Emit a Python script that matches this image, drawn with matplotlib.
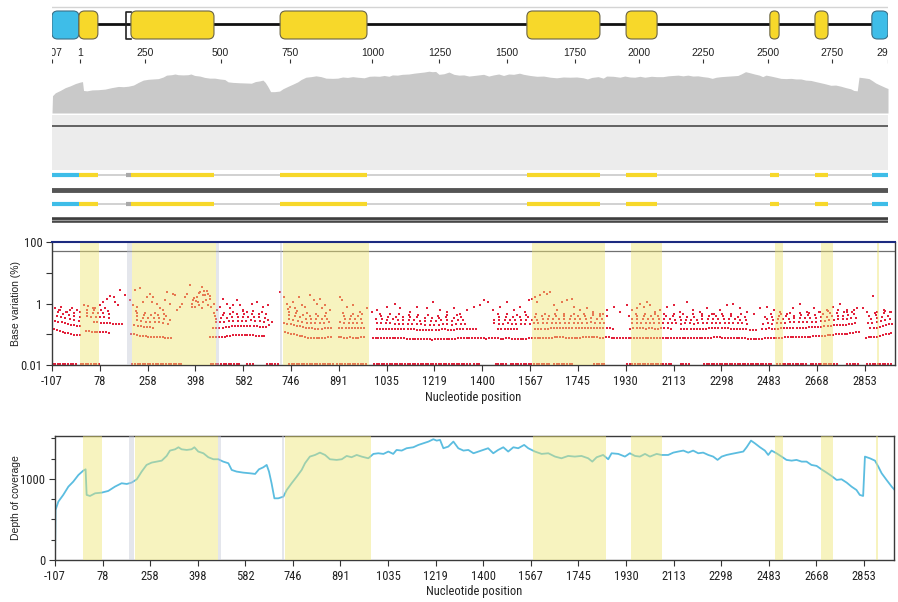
import numpy as np
import matplotlib
matplotlib.use('Agg')
import matplotlib.pyplot as plt
from matplotlib.patches import FancyBboxPatch
from matplotlib.ticker import MultipleLocator, NullLocator
from matplotlib import font_manager

# alignment columns, ticks are every 185 columns, labelled with reference position
XMAX = 3262
tick_cols = [0, 185, 370, 555, 740, 925, 1110, 1295, 1480, 1665, 1850, 2035, 2220, 2405, 2590, 2775, 2960, 3145]
tick_labels = [-107, 78, 258, 398, 582, 746, 891, 1035, 1219, 1400, 1567, 1745, 1930, 2113, 2298, 2483, 2668, 2853]
genome_end = 2900
top_tick_pos = [-107, 1, 250, 500, 750, 1000, 1250, 1500, 1750, 2000, 2250, 2500, 2750, 2900]

# features (alignment columns)
feat_start = [0, 105, 308, 890, 1853, 2240, 2801, 2977, 3199]
feat_end = [105, 179, 632, 1229, 2138, 2361, 2837, 3028, 3262]
feat_kind = ['utr', 'cds', 'cds', 'cds', 'cds', 'cds', 'cds', 'cds', 'utr']
gap_start = [289, 634, 884]
gap_end = [308, 645, 890]
hl_start = [109, 311, 894, 1858, 2239, 2798, 2977, 3191]
hl_end = [183, 634, 1228, 2141, 2359, 2829, 3024, 3199]

# depth of coverage
cov_col = [0, 2, 13, 32, 52, 71, 91, 110, 119, 123, 136, 156, 181, 207, 233, 259, 279, 298, 318, 337,
           356, 376, 395, 415, 434, 447, 467, 480, 492, 512, 531, 542, 557, 577, 596, 616, 635, 654, 674,
           687, 706, 732, 758, 778, 793, 810, 823, 832, 842, 853, 868, 888, 901, 920, 940, 959, 972, 991,
           1011, 1030, 1050, 1069, 1095, 1115, 1134, 1153, 1173, 1192, 1218, 1238, 1257, 1277, 1296, 1315,
           1328, 1348, 1367, 1393, 1413, 1432, 1452, 1471, 1484, 1497, 1510, 1529, 1549, 1568, 1588, 1607,
           1627, 1658, 1684, 1704, 1723, 1743, 1762, 1782, 1801, 1824, 1840, 1866, 1892, 1918, 1944, 1969,
           1995, 2021, 2047, 2073, 2089, 2106, 2131, 2151, 2164, 2190, 2216, 2235, 2255, 2274, 2294, 2313,
           2339, 2358, 2384, 2404, 2423, 2443, 2462, 2481, 2501, 2520, 2540, 2559, 2576, 2592, 2611, 2630,
           2656, 2676, 2689, 2706, 2721, 2741, 2760, 2773, 2786, 2805, 2825, 2844, 2864, 2883, 2903, 2922,
           2941, 2961, 2980, 3000, 3019, 3039, 3058, 3078, 3097, 3116, 3129, 3142, 3149, 3168, 3188, 3201,
           3214, 3233, 3253, 3262]
cov_depth = [0, 617, 720, 803, 905, 967, 1049, 1103, 1119, 803, 790, 823, 831, 852, 905, 947, 938, 955, 996,
             1091, 1173, 1202, 1214, 1226, 1284, 1350, 1366, 1391, 1366, 1358, 1366, 1391, 1338, 1317, 1268,
             1243, 1243, 1214, 1194, 1111, 1091, 1078, 1070, 1062, 1119, 1144, 1173, 1091, 947, 761, 761, 782,
             864, 947, 1029, 1111, 1194, 1276, 1296, 1325, 1296, 1243, 1235, 1243, 1284, 1268, 1296, 1276,
             1255, 1309, 1317, 1309, 1338, 1309, 1358, 1350, 1379, 1391, 1420, 1440, 1461, 1490, 1473, 1482,
             1379, 1399, 1461, 1379, 1350, 1358, 1317, 1350, 1379, 1317, 1358, 1391, 1338, 1391, 1379, 1420,
             1379, 1338, 1309, 1317, 1276, 1255, 1284, 1276, 1284, 1255, 1214, 1268, 1296, 1243, 1317, 1309,
             1276, 1317, 1284, 1276, 1309, 1276, 1309, 1296, 1296, 1325, 1338, 1350, 1325, 1350, 1317, 1325,
             1296, 1276, 1235, 1276, 1296, 1309, 1325, 1338, 1391, 1473, 1440, 1391, 1350, 1296, 1350, 1317,
             1276, 1235, 1226, 1235, 1214, 1214, 1173, 1161, 1119, 1078, 1037, 988, 996, 955, 905, 864, 803,
             790, 1276, 1255, 1226, 1152, 1070, 988, 905, 873]

# base variation: rows of 1..6 variant reads, read as covered segments
seg_k1 = [(0, 116), (120, 224), (302, 468), (604, 832), (890, 1088), (1103, 1219), (1231, 3127), (3146, 3255)]
seg_k2 = [(0, 120), (159, 275), (310, 399), (611, 855), (894, 1088), (1103, 1219), (1243, 1645),
          (1722, 1811), (1861, 2171), (2225, 2403), (2430, 2728), (2740, 3115), (3154, 3255)]
seg_sparse = [(0, 110), (130, 230), (320, 460), (620, 840), (900, 1080), (1110, 1210), (1250, 1600),
              (1700, 2150), (2230, 2700), (2750, 3120), (3150, 3255)]
band_reads = [1, 2, 3, 4, 5, 6]
band_segs = [seg_k1, seg_k2, seg_sparse, seg_sparse, seg_sparse, seg_sparse]
band_step = [11, 12, 17, 21, 28, 37]
seg_zero = [(0, 102), (109, 186), (309, 502), (612, 728), (754, 779), (831, 883), (915, 1089), (1102, 1218),
            (1244, 1618), (1631, 1657), (1715, 1760), (1773, 1928), (1941, 2018), (2095, 2147), (2224, 2405),
            (2431, 2470), (2521, 2792), (2805, 2921), (2934, 3037), (3076, 3127), (3153, 3255)]
zero_pct = 0.0105

hi_col = [12, 31, 57, 76, 96, 122, 141, 160, 186, 199, 212, 225, 238, 244, 257, 263, 283, 302, 315, 328,
          321, 341, 354, 367, 380, 392, 386, 405, 418, 431, 438, 444, 457, 470, 476, 483, 496, 502, 515,
          521, 534, 541, 547, 560, 567, 573, 579, 586, 592, 599, 605, 612, 625, 638, 650, 663, 676, 689,
          702, 715, 728, 741, 754, 773, 792, 818, 837, 883, 896, 908, 921, 934, 941, 954, 966, 979, 999,
          1012, 1025, 1037, 1044, 1057, 1076, 1115, 1121, 1141, 1166, 1192, 1218, 1237, 1257, 1295, 1328,
          1347, 1386, 1412, 1450, 1476, 1502, 1528, 1554, 1579, 1605, 1631, 1657, 1670, 1689, 1708, 1734,
          1760, 1786, 1812, 1831, 1844, 1857, 1870, 1876, 1889, 1902, 1915, 1928, 1941, 1954, 1973, 1992,
          2012, 2018, 2044, 2070, 2095, 2121, 2147, 2173, 2199, 2224, 2244, 2263, 2276, 2289, 2302, 2315,
          2334, 2353, 2379, 2405, 2431, 2457, 2482, 2508, 2534, 2560, 2586, 2611, 2637, 2663, 2689, 2715,
          2740, 2766, 2792, 2818, 2844, 2869, 2895, 2921, 2947, 2973, 2998, 3024, 3050, 3076, 3102, 3140,
          3153, 3176, 3192, 3218, 3243,
          540, 550, 553, 565, 580, 585, 595, 603, 615, 570, 590, 558, 610]
hi_pct = [0.69, 0.61, 0.54, 0.69, 0.61, 0.88, 0.83, 0.69, 0.88, 1.13, 1.45, 1.73, 1.64, 1.13, 0.88, 2.7,
          1.86, 1.28, 0.88, 0.78, 2.7, 3.1, 1.13, 1.64, 2.1, 1.64, 1.13, 1.0, 0.69, 0.61, 1.28, 2.4, 1.0,
          2.1, 1.86, 0.61, 0.78, 1.0, 1.64, 2.1, 3.9, 0.78, 1.28, 1.64, 0.88, 2.4, 3.5, 1.13, 1.86, 2.6,
          2.1, 1.45, 1.0, 0.61, 0.78, 1.45, 1.0, 0.69, 0.88, 1.28, 0.88, 0.61, 0.54, 1.0, 1.13, 0.78, 0.88,
          2.4, 1.64, 1.0, 0.78, 1.13, 0.69, 1.64, 0.88, 0.78, 1.86, 1.28, 1.0, 1.45, 0.69, 0.88, 0.61,
          1.64, 1.28, 0.78, 0.88, 0.54, 0.69, 0.54, 0.61, 0.78, 1.0, 0.69, 0.54, 0.78, 0.69, 1.13, 0.61,
          0.54, 0.69, 0.47, 0.61, 0.78, 0.88, 1.28, 1.13, 0.61, 0.78, 1.13, 0.61, 0.78, 0.54, 1.28, 1.45,
          1.64, 1.13, 1.86, 2.4, 2.1, 2.4, 0.88, 0.61, 1.13, 1.28, 1.45, 0.78, 0.61, 0.69, 0.54, 0.47,
          0.61, 0.78, 0.54, 0.88, 0.61, 0.69, 1.0, 0.78, 1.13, 0.88, 0.54, 0.61, 0.78, 0.88, 0.54, 1.13,
          0.61, 0.54, 0.69, 0.47, 0.61, 0.88, 1.0, 0.69, 0.54, 0.47, 0.69, 0.78, 0.61, 0.54, 0.47, 0.69,
          1.0, 0.54, 0.69, 0.54, 0.61, 0.78, 1.0, 0.54, 0.61, 0.69, 0.54, 1.73, 0.54, 0.61, 0.54,
          0.95, 1.5, 0.75, 1.1, 0.7, 1.9, 1.3, 0.9, 0.75, 2.2, 2.6, 1.2, 1.7]


def pick_font(names):
    for name in names:
        try:
            font_manager.findfont(name, fallback_to_default=False)
            return name
        except ValueError:
            pass
    return 'DejaVu Sans'


narrow = pick_font(['Liberation Sans Narrow', 'Roboto Condensed', 'Liberation Sans'])
plain = pick_font(['Liberation Sans', 'Arial'])

W, H = 898, 602
YELLOW = '#f7d82a'
BLUE = '#3ebde8'
BAND = '#efe671'
GAPC = '#c4c8d5'
RED = '#e2223c'


def box(x0, y0, x1, y1):
    return [x0 / W, 1 - y1 / H, (x1 - x0) / W, (y1 - y0) / H]


fig = plt.figure(figsize=(W / 100, H / 100), dpi=100)

# ---- top track (gene map, tick scale, read tracks) ----
ax_top = fig.add_axes(box(52, 0, 888, 226))
ax_top.set_xlim(0, XMAX)
ax_top.set_ylim(226, 0)
ax_top.axis('off')
col_per_px = XMAX / 836

ax_top.axhline(7, color='#d4d4d4', lw=1)
ax_top.axhline(24, color='#111111', lw=2, zorder=1)
for s, e, k in zip(feat_start, feat_end, feat_kind):
    w = e - s
    r = min(22, w / 2)
    fc = BLUE if k == 'utr' else YELLOW
    ec = '#3c6f86' if k == 'utr' else '#6a6446'
    ax_top.add_patch(FancyBboxPatch((s, 11), w, 28, boxstyle=f'round,pad=0,rounding_size={r}',
                                    mutation_aspect=1 / col_per_px, fc=fc, ec=ec, lw=0.8, zorder=2))
# bracket in front of the second coding box
ax_top.plot([gap_end[0], gap_start[0], gap_start[0], gap_end[0]], [11.5, 11.5, 38.5, 38.5],
            color='#222222', lw=1.2, zorder=3)

top_cols = np.interp(top_tick_pos, tick_labels + [genome_end], tick_cols + [XMAX])
for c, lab in zip(top_cols, top_tick_pos):
    ax_top.text(c, 53, str(lab), ha='center', va='center', fontsize=7.5, family=plain,
                color='#222222', clip_on=True)
ax_top.vlines(top_cols, 59, 63, color='#333333', lw=0.8)

ax_top.axhspan(114.5, 169.5, color='#ececec', lw=0)
ax_top.axhline(125.5, color='#4a4a4a', lw=1.2)
for y in [174.5, 203.5]:
    ax_top.axhline(y, color='#c9c9c9', lw=1.2)
    for s, e, k in zip(feat_start, feat_end, feat_kind):
        ax_top.hlines(y, s, e, color=BLUE if k == 'utr' else YELLOW, lw=3)
    ax_top.hlines(y, gap_start[0], gap_end[0], color='#a9a9a9', lw=3)
ax_top.axhline(190, color='#555555', lw=3.5)
ax_top.axhline(219.5, color='#3d3d3d', lw=4)
ax_top.axhline(219.5, color='#9a9a9a', lw=0.9)

ax_cov = fig.add_axes(box(52, 60, 888, 113))
ax_cov.set_xlim(0, XMAX)
ax_cov.set_ylim(0, 1890)
ax_cov.axis('off')
ax_cov.fill_between(cov_col, cov_depth, color='#c9c9c9', lw=0)


def style_axes(ax):
    ax.set_xlim(0, XMAX)
    ax.set_xticks(tick_cols)
    ax.set_xticklabels([str(t) for t in tick_labels])
    ax.tick_params(axis='both', direction='out', length=4, width=0.8, color='#333333',
                   labelsize=9, labelcolor='#222222', pad=3)
    for lab in ax.get_xticklabels() + ax.get_yticklabels():
        lab.set_family(narrow)
    for sp in ax.spines.values():
        sp.set_color('#3a3a3a')
        sp.set_linewidth(1)
    for s, e in zip(hl_start, hl_end):
        ax.axvspan(s, e, color=BAND, alpha=0.45, lw=0, zorder=3)
    for s, e in zip(gap_start, gap_end):
        ax.axvspan(s, e, color=GAPC, alpha=0.45, lw=0, zorder=3)
    ax.set_xlabel('Nucleotide position', family=narrow, fontsize=9, color='#222222', labelpad=2)


# ---- base variation ----
ax_var = fig.add_axes(box(52, 242, 895, 365))
ax_var.set_yscale('log')
ax_var.set_ylim(0.01, 100)
ax_var.set_yticks([0.01, 0.1, 1, 10, 100])
ax_var.set_yticklabels(['0.01', '', '1', '', '100'])
ax_var.yaxis.set_minor_locator(NullLocator())
style_axes(ax_var)
ax_var.spines['top'].set_visible(False)
ax_var.axhline(100, color='#1c2a80', lw=1.5, clip_on=False, zorder=4)
ax_var.axhline(50, color='#707070', lw=0.9, zorder=1)

dot_kw = dict(ls='', marker='s', ms=1.8, mew=0, color=RED, zorder=2)
for k, segs, step in zip(band_reads, band_segs, band_step):
    cols = np.concatenate([np.arange(s + 3 + (k * 5 + i * 4) % step, e, step)
                           for i, (s, e) in enumerate(segs)])
    ax_var.plot(cols, 100.0 * k / np.interp(cols, cov_col, cov_depth), **dot_kw)
zcols = np.concatenate([np.arange(s + 2, e, 10) for s, e in seg_zero])
ax_var.plot(zcols, np.full(len(zcols), zero_pct), clip_on=False, **dot_kw)
ax_var.plot(hi_col, hi_pct, **dot_kw)
ax_var.set_ylabel('Base variation (%)', family=plain, fontsize=7.5, color='#222222')
ax_var.yaxis.set_label_coords(-31 / 843, 0.5)

# ---- depth of coverage ----
ax_dep = fig.add_axes(box(55, 436, 894, 560))
ax_dep.set_ylim(0, 1530)
ax_dep.set_yticks([0, 1000])
ax_dep.yaxis.set_minor_locator(MultipleLocator(250))
ax_dep.tick_params(axis='y', which='minor', length=3, width=0.8, color='#333333')
style_axes(ax_dep)
ax_dep.plot(cov_col, cov_depth, color='#5bbde0', lw=1.3, zorder=2)
ax_dep.set_ylabel('Depth of coverage', family=plain, fontsize=7.5, color='#222222')
ax_dep.yaxis.set_label_coords(-34 / 839, 0.5)

fig.savefig('out.png', dpi=100)
